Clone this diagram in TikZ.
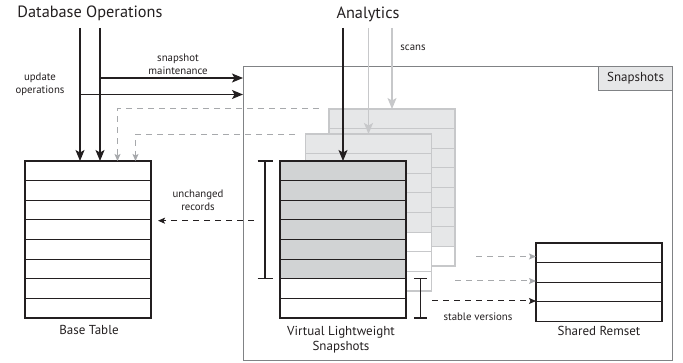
\documentclass[tikz,border=0pt]{standalone}
\usepackage{fontspec}
\setmainfont{PT Sans}
\usetikzlibrary{arrows.meta,calc}
\definecolor{ink}{HTML}{231F20}
\definecolor{framegray}{HTML}{808285}
\definecolor{ghostline}{HTML}{C7C8CA}
\definecolor{ghostfill}{HTML}{E6E7E8}
\definecolor{livefill}{HTML}{D1D3D4}
\definecolor{dashgray}{HTML}{A7A9AC}
\tikzset{
  blk/.style={ink, line width=1.2pt, -{Stealth[length=11pt,width=9pt,inset=2.5pt]}},
  gscan/.style={ghostline, line width=1.2pt, -{Stealth[length=11pt,width=9pt,inset=2.5pt]}},
  gdash/.style={dashgray, line width=1pt, dash pattern=on 6pt off 5pt, -{Stealth[length=7pt,width=6pt,inset=1.5pt]}},
  kdash/.style={ink, line width=1pt, dash pattern=on 6pt off 5pt, -{Stealth[length=7pt,width=6pt,inset=1.5pt]}},
  lbl/.style={ink, font=\fontsize{10.8}{13}\selectfont, align=center, inner sep=0pt},
  captext/.style={ink, font=\fontsize{13}{15.5}\selectfont, align=center, inner sep=0pt},
  titletext/.style={ink, font=\fontsize{16.3}{19}\selectfont, inner sep=0pt},
  brk/.style={ink, line width=1.2pt},
}
% \tablestack{name}{x}{y}{rows}{shaded rows}{line colour}{shade colour}{line width}
\newcommand\tablestack[8]{%
  \node[draw=#6, line width=#8, fill=white, minimum width=126pt,
        minimum height=#4*19.625pt, inner sep=0pt, outer sep=0pt,
        anchor=north west] (#1) at (#2,#3) {};
  \ifnum#5>0
    \fill[#7] (#1.north west) rectangle ($(#1.north east)+(0,#5*19.625)$);
  \fi
  \foreach \r in {1,...,\numexpr#4-1\relax}
    \draw[#6, line width=#8] ($(#1.north west)+(0,\r*19.625)$) -- ($(#1.north east)+(0,\r*19.625)$);
  \draw[#6, line width=#8] (#1.north west) rectangle (#1.south east);
}
\begin{document}
\begin{tikzpicture}[x=1pt,y=-1pt]
\useasboundingbox (0,0) rectangle (683,363);

% snapshot area with its tab
\node[draw=framegray, line width=1.2pt, minimum width=429pt, minimum height=294pt,
      inner sep=0pt, anchor=north west] (frame) at (243,66) {};
\node[draw=framegray, line width=1.2pt, fill=ghostfill, minimum width=74pt,
      minimum height=24pt, inner sep=0pt, anchor=north east,
      font=\fontsize{13}{15}\selectfont, text=ink] (tab) at (frame.north east) {Snapshots};

% tables
\tablestack{base}{25}{161}{8}{0}{ink}{white}{1.1pt}
\tablestack{back}{329}{109}{8}{7}{ghostline}{ghostfill}{1.1pt}
\tablestack{mid}{305.5}{134}{8}{5}{ghostline}{ghostfill}{1.1pt}
\tablestack{front}{280}{161}{8}{6}{ink}{livefill}{1.1pt}
\tablestack{remset}{536}{243}{4}{0}{ink}{white}{1.1pt}

% captions
\node[titletext, anchor=base] (dbops) at (90,18) {Database Operations};
\node[titletext, anchor=base] (analytics) at (368,19) {Analytics};
\node[captext, anchor=north] (basecap) at (89,325) {Base Table};
\node[captext, anchor=north] (frontcap) at (341,326) {Virtual Lightweight\\Snapshots};
\node[captext, anchor=north] (remcap) at (599,326) {Shared Remset};
\node[lbl] (maint) at (178,64) {snapshot\\maintenance};
\node[lbl] (upd) at (40,84) {update\\operations};
\node[lbl] (scans) at (413,47.5) {scans};
\node[lbl] (unch) at (198,200.5) {unchanged\\records};
\node[lbl] (stable) at (478,317) {stable versions};

% update traffic
\coordinate (uA) at (80,28);
\coordinate (uB) at (100,28);
\coordinate (mB) at (100,78);
\coordinate (mA) at (80,94.5);
\draw[blk] (uA) -- (uA |- base.north);
\draw[blk] (uB) -- (uB |- base.north);
\draw[blk] (mB) -- (mB -| frame.west);
\draw[blk] (mA) -- (mA -| frame.west);

% reads of the base table by the snapshots
\coordinate (r1) at (319,109);
\coordinate (r1c) at (117.5,109);
\coordinate (r2) at (295,134.3);
\coordinate (r2c) at (135.5,134.3);
\draw[gdash] (r1) -- (r1c) -- (r1c |- base.north);
\draw[gdash] (r2) -- (r2c) -- (r2c |- base.north);

% analytic scans
\coordinate (a1) at (front.north |- 0,28);
\coordinate (a2) at (mid.north |- 0,28);
\coordinate (a3) at (back.north |- 0,28);
\draw[gscan] (a3) -- (back.north);
\draw[gscan] (a2) -- (mid.north);
\draw[blk] (a1) -- (front.north);

% unchanged records fall back to the base table
\coordinate (uc) at (254,220.7);
\draw[kdash] (uc) -- ($(uc -| base.east)+(7,0)$);

% brackets
\draw[brk] (265,161) -- (265,278.3) (257.5,161) -- (272.5,161) (257.5,278.3) -- (272.5,278.3);
\draw[brk] (420.5,278.3) -- (420.5,318) (414,278.3) -- (427,278.3) (414,318) -- (427,318);

% stable versions into the shared remset
\coordinate (s1) at (476,256.5);
\coordinate (s2) at (455,281);
\coordinate (s3) at (432,301);
\draw[gdash] (s1) -- (s1 -| remset.west);
\draw[gdash] (s2) -- (s2 -| remset.west);
\draw[kdash] (s3) -- (s3 -| remset.west);
\end{tikzpicture}
\end{document}
